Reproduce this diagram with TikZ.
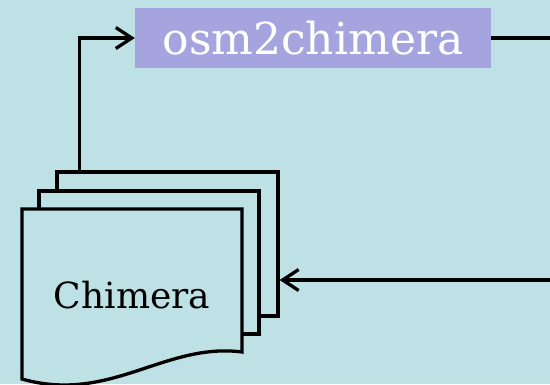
\documentclass[tikz,border=0pt]{standalone}
\usepackage{fontspec}
\setmainfont{DejaVu Serif}
\usetikzlibrary{arrows.meta}

\definecolor{slidebg}{RGB}{189,225,228}
\definecolor{toolbox}{RGB}{165,164,222}

\begin{document}
\begin{tikzpicture}[x=1pt,y=-1pt,
  tool/.style={fill=toolbox, text=white, minimum width=356pt, minimum height=60pt, inner sep=0pt},
  page/.style={draw=black, line width=3.3pt, fill=slidebg, inner sep=0pt},
  flow/.style={line width=3.3pt, -{Straight Barb[length=16pt,width=21pt,line width=3.3pt]}}
]

\fill[slidebg] (0,0) rectangle (550,384);
\useasboundingbox (0,0) rectangle (550,384);

\node[tool, font=\fontsize{44}{52}\selectfont] (osm) at (313,38) {osm2chimera};

% stack of pages, back to front
\node[page, minimum width=221pt, minimum height=144pt] (back) at (167.5,244) {};
\node[page, minimum width=220pt, minimum height=143pt] (middle) at (149,262.5) {};
\draw[page] (22,209) -- (242,209) -- (242,352)
  .. controls (165,342) and (110,404) .. (22,379) -- cycle;
\node[anchor=base, font=\fontsize{36}{43}\selectfont] (front) at (132,308) {Chimera};

% connectors
\coordinate (loopout) at (550,38);
\coordinate (loopin) at (550,280);
\draw[flow] ([xshift=24pt]back.north west) |- (osm.west);
\draw[line width=3.3pt] (osm.east) -- (loopout);
\draw[flow] (loopin) -- (loopin -| back.east);

\end{tikzpicture}
\end{document}
